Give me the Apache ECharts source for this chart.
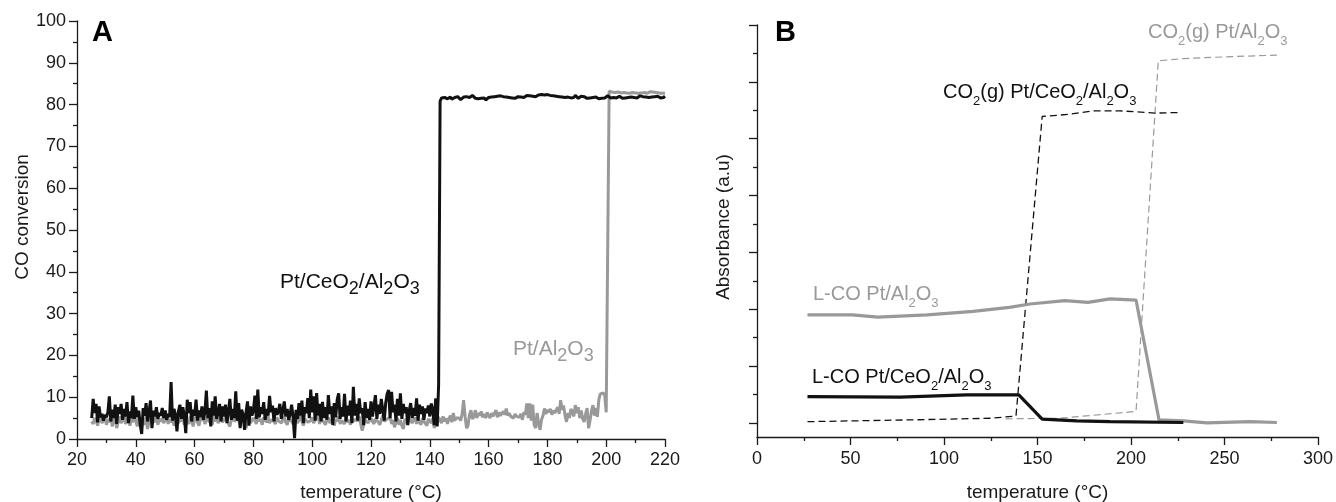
<!DOCTYPE html>
<html>
<head>
<meta charset="utf-8">
<script src="https://cdn.jsdelivr.net/npm/echarts@6/dist/echarts.min.js"></script>
<style>
  html, body { margin: 0; padding: 0; background: #fff; }
  #chart { width: 1336px; height: 502px; }
</style>
</head>
<body>
<div id="chart"></div>
<script>
// ---- panel A : CO conversion vs temperature, sampled every 0.5 °C from 25 °C ----
var tStart = 25;
var tStep = 0.5;

// Pt/CeO2/Al2O3, 25.0 .. 143.0
var blackLow = [
  5.0, 9.6, 6.2, 8.4, 4.0, 7.8, 5.2, 6.0, 4.4, 5.8,
  5.2, 6.4, 10.2, 4.2, 7.0, 5.0, 8.2, 3.6, 7.6, 6.0,
  8.4, 4.6, 7.2, 5.4, 8.8, 3.8, 6.6, 5.0, 10.4, 4.8,
  7.6, 5.2, 6.8, 3.4, 1.2, 7.4, 5.6, 8.6, 4.2, 6.4,
  9.2, 2.6, 6.8, 5.4, 7.6, 4.8, 6.2, 5.6, 7.4, 5.0,
  6.8, 4.6, 6.0, 5.2, 13.6, 4.4, 7.2, 5.8, 1.8, 6.6,
  8.2, 4.8, 7.6, 5.4, 1.4, 9.4, 6.2, 8.8, 4.2, 7.0,
  5.6, 9.4, 4.4, 6.8, 5.2, 7.8, 4.6, 6.4, 11.6, 5.0,
  7.4, 3.0, 9.0, 5.6, 10.2, 4.8, 6.2, 8.4, 4.2, 7.8,
  5.4, 8.2, 3.8, 6.6, 9.6, 4.6, 7.2, 5.0, 11.4, 4.4,
  8.6, 2.6, 7.0, 5.8, 2.2, 6.4, 9.0, 3.2, 7.8, 5.6,
  6.8, 10.4, 4.8, 11.8, 5.2, 7.6, 6.0, 8.8, 4.6, 7.2,
  5.6, 10.3, 6.4, 8.0, 4.2, 7.4, 5.8, 6.6, 8.4, 4.8,
  6.8, 9.0, 5.4, 7.2, 4.6, 6.0, 8.2, 5.2, 0.2, 7.0,
  4.8, 8.6, 5.6, 9.2, 3.8, 7.6, 6.2, 9.8, 5.0, 11.8,
  6.4, 10.2, 4.4, 11.0, 5.6, 8.4, 4.2, 8.9, 5.0, 7.6,
  4.6, 10.5, 6.0, 7.8, 3.4, 8.6, 5.2, 9.4, 10.9, 4.8,
  7.6, 5.4, 10.8, 4.2, 8.0, 5.6, 9.2, 3.8, 12.5, 5.6,
  8.4, 4.4, 9.7, 6.2, 7.4, 3.3, 8.8, 5.0, 7.2, 4.6,
  9.0, 5.4, 7.8, 10.5, 4.8, 8.2, 6.0, 9.6, 9.3, 4.4,
  8.6, 10.8, 11.7, 5.0, 11.3, 6.4, 8.2, 4.2, 9.6, 5.6,
  10.9, 4.8, 8.4, 6.2, 7.6, 3.3, 6.8, 8.6, 5.0, 7.4,
  5.6, 9.7, 4.4, 8.2, 6.0, 7.8, 4.6, 7.3, 6.2, 8.0,
  5.4, 8.5, 7.0, 3.3, 9.7, 3.0, 13.0
];
// Pt/CeO2/Al2O3, 143.5 .. 220.0
var blackHigh = [
  80.8, 81.6, 82.0, 81.7, 81.9, 81.4, 81.6, 81.8, 81.3, 81.5,
  81.7, 81.4, 81.9, 81.6, 81.2, 81.5, 81.8, 81.6, 81.9, 82.1,
  81.7, 81.9, 82.2, 81.8, 81.5, 81.7, 81.4, 81.2, 81.5, 81.3,
  81.6, 81.1, 81.4, 81.7, 81.5, 81.8, 81.6, 81.9, 81.7, 82.0,
  81.8, 82.1, 81.7, 81.9, 81.6, 81.8, 82.0, 81.7, 81.9, 81.6,
  81.8, 81.5, 81.7, 81.9, 82.1, 81.8, 82.0, 81.7, 81.9, 82.2,
  81.9, 82.1, 81.8, 82.0, 82.2, 81.9, 82.1, 82.3, 82.0, 82.4,
  82.6, 82.3, 82.1, 82.4, 82.0, 82.2, 81.9, 82.1, 81.8, 82.0,
  81.7, 81.9, 81.6, 81.8, 82.1, 81.7, 81.5, 81.8, 82.0, 81.6,
  81.9, 81.7, 82.2, 81.8, 81.5, 81.7, 82.0, 81.6, 81.9, 81.7,
  81.5, 81.8, 81.6, 81.9, 81.7, 81.5, 81.8, 81.6, 81.4, 81.7,
  81.5, 81.8, 81.6, 81.9, 82.1, 81.8, 81.6, 82.0, 81.7, 81.9,
  81.6, 81.8, 82.0, 81.7, 81.5, 81.8, 81.6, 81.9, 81.7, 81.5,
  81.8, 82.0, 81.7, 81.9, 81.6, 81.8, 82.1, 81.7, 81.9, 81.6,
  81.8, 82.0, 81.7, 81.5, 81.8, 81.6, 81.9, 81.7, 82.0, 81.8,
  81.6, 81.9, 81.7, 82.0
];

// Pt/Al2O3, 25.0 .. 200.5
var grayLow = [
  4.2, 3.6, 5.0, 4.4, 3.2, 4.8, 5.4, 3.8, 4.6, 5.2,
  3.4, 4.8, 4.0, 5.6, 3.0, 4.4, 5.0, 2.6, 4.2, 5.4,
  3.8, 4.6, 5.8, 3.6, 4.4, 5.2, 3.2, 4.8, 4.0, 5.6,
  4.4, 3.0, 5.0, 4.2, 2.8, 4.6, 3.4, 5.4, 2.4, 4.0,
  5.2, 3.6, 4.6, 4.0, 5.6, 3.4, 4.8, 4.2, 5.0, 3.8,
  4.4, 5.6, 3.6, 4.8, 4.0, 5.2, 3.2, 4.6, 5.4, 3.8,
  4.8, 4.2, 5.8, 3.4, 4.6, 5.0, 3.6, 5.4, 4.4, 3.0,
  4.8, 5.4, 4.0, 3.2, 5.0, 4.4, 5.8, 3.6, 4.6, 5.2,
  4.0, 4.8, 3.4, 5.6, 4.2, 5.0, 3.8, 4.6, 5.4, 4.0,
  3.6, 5.2, 4.4, 4.8, 3.0, 4.6, 5.6, 4.2, 3.8, 5.0,
  4.4, 3.2, 5.2, 4.0, 4.8, 2.6, 4.6, 5.4, 3.8, 4.2,
  5.0, 4.4, 3.6, 5.6, 4.2, 4.8, 3.4, 5.2, 4.6, 4.0,
  5.4, 3.8, 4.6, 5.0, 4.2, 3.6, 5.2, 4.4, 4.8, 3.8,
  4.6, 5.4, 4.0, 3.4, 4.8, 5.2, 4.2, 3.6, 4.4, 5.0,
  3.8, 4.6, 5.6, 4.2, 3.2, 4.8, 5.0, 4.0, 3.6, 4.4,
  5.2, 3.8, 4.6, 4.2, 5.4, 3.6, 4.8, 5.0, 4.0, 3.4,
  4.6, 5.2, 3.8, 4.4, 5.0, 3.2, 4.8, 4.2, 5.4, 3.6,
  4.4, 4.8, 3.6, 5.2, 4.0, 4.6, 3.4, 5.0, 4.2, 3.8,
  4.8, 4.2, 5.4, 3.6, 2.0, 3.4, 4.6, 5.0, 3.8, 4.4,
  5.0, 4.2, 3.6, 4.8, 5.2, 4.0, 3.4, 4.6, 5.6, 4.2,
  3.8, 4.8, 4.4, 5.2, 3.6, 4.6, 2.8, 4.0, 5.0, 3.4,
  4.6, 3.2, 2.4, 4.8, 4.2, 3.6, 5.0, 4.4, 3.8, 4.6,
  5.2, 3.6, 4.8, 4.0, 3.4, 5.0, 4.2, 4.6, 3.2, 4.8,
  4.4, 3.8, 5.0, 2.6, 4.2, 3.4, 5.2, 4.6, 3.8, 5.4,
  4.2, 5.0, 3.6, 4.8, 5.6, 4.0, 6.2, 4.4, 5.0, 4.6,
  5.0, 4.4, 6.0, 9.3, 5.4, 2.6, 3.2, 5.8, 6.9, 4.8,
  5.4, 6.9, 5.0, 6.2, 5.6, 6.6, 5.2, 6.0, 5.0, 6.4,
  5.6, 5.0, 6.2, 5.4, 5.8, 6.9, 5.2, 6.4, 5.6, 6.0,
  6.6, 5.8, 7.3, 5.6, 6.2, 5.4, 5.8, 5.0, 6.0, 5.4,
  5.6, 5.2, 6.0, 4.6, 6.4, 5.8, 8.5, 5.0, 8.5, 4.4,
  8.2, 3.4, 2.6, 6.2, 3.8, 2.2, 4.6, 5.6, 7.3, 6.0,
  7.0, 6.4, 7.2, 5.8, 6.8, 6.2, 6.9, 7.6, 6.0, 9.3,
  7.0, 8.0, 5.6, 4.1, 6.2, 5.0, 7.2, 6.4, 5.4, 8.1,
  6.2, 7.6, 5.0, 6.8, 4.8, 4.1, 6.0, 7.4, 2.6, 4.4,
  6.8, 8.1, 5.6, 7.4, 5.3, 9.4, 10.8, 10.6, 11.0, 10.4,
  6.4, 6.6
];
// Pt/Al2O3, 201.0 .. 220.0
var grayHigh = [
  83.2, 83.4, 83.0, 83.3, 82.9, 83.2, 83.0, 83.3, 82.8, 83.1,
  82.9, 83.2, 82.8, 83.0, 82.7, 83.1, 82.9, 83.2, 82.8, 83.0,
  82.7, 83.0, 82.8, 83.1, 82.9, 83.0, 82.7, 82.9, 83.1, 82.8,
  83.0, 82.7, 82.9, 83.0, 82.8, 82.9, 82.7, 83.0, 82.8
];

// ---- panel B : absorbance (a.u.), one unit = one long tick ----
var lcoAlT = [27, 51, 64.6, 91, 115.6, 135, 146, 164.7, 177, 188.8, 202.7, 215, 228, 240.6, 263.6, 278];
var lcoAlA = [1.90, 1.90, 1.86, 1.90, 1.96, 2.03, 2.09, 2.15, 2.12, 2.18, 2.16, 0.05, 0.035, 0.0, 0.02, 0.005];
var lcoCeT = [27, 76.5, 112, 140, 152.5, 171, 188.8, 228];
var lcoCeA = [0.46, 0.45, 0.49, 0.49, 0.065, 0.035, 0.02, 0.005];
var co2CeT = [27, 80, 125, 138.5, 152.5, 167.5, 179.6, 194, 212.8, 226];
var co2CeA = [0.02, 0.05, 0.08, 0.12, 5.39, 5.43, 5.49, 5.49, 5.45, 5.46];
var co2AlT = [133, 162, 202.7, 214.6, 228, 251, 278];
var co2AlA = [0.07, 0.08, 0.2, 6.37, 6.41, 6.44, 6.47];

var FONT = 'Liberation Sans, Arial, sans-serif';
var INK = '#1a1a1a';
var GREY = '#999999';

function sampled(values, first) {
  return values.map(function(v, i) { return [first + i * tStep, v]; });
}
function paired(ts, vs) {
  return ts.map(function(t, i) { return [t, vs[i]]; });
}

var blackData = sampled(blackLow.concat(blackHigh), tStart);
var grayData = sampled(grayLow.concat(grayHigh), tStart);

var axisLine = { show: true, onZero: false, lineStyle: { color: INK, width: 1.3 } };
var tickStyle = { color: INK, width: 1.3 };

function chem(parts, color, big, small, lh, slh) {
  return {
    type: 'text',
    x: parts.x, y: parts.y,
    style: {
      text: parts.text,
      align: 'left',
      verticalAlign: 'middle',
      fill: color,
      fontFamily: FONT,
      rich: {
        m: { fill: color, fontFamily: FONT, fontSize: big, lineHeight: lh, verticalAlign: 'middle' },
        s: { fill: color, fontFamily: FONT, fontSize: small, lineHeight: slh, verticalAlign: 'bottom' }
      }
    }
  };
}

var dom = document.getElementById('chart');
var chart = echarts.init(dom, null, { renderer: 'canvas' });

var option = {
  animation: false,
  backgroundColor: '#ffffff',
  grid: [
    { left: 77, top: 21, width: 588, height: 418, outerBoundsMode: 'none', containLabel: false },
    { left: 757, top: 25, width: 561, height: 412, outerBoundsMode: 'none', containLabel: false },
    { left: 757, top: 25, width: 561, height: 398, outerBoundsMode: 'none', containLabel: false }
  ],
  xAxis: [
    {
      gridIndex: 0, type: 'value', min: 20, max: 220, interval: 20,
      name: 'temperature (°C)', nameLocation: 'middle', nameGap: 44,
      nameTextStyle: { fontFamily: FONT, fontSize: 19, color: INK },
      axisLine: axisLine,
      axisTick: { show: true, length: 8, lineStyle: tickStyle },
      minorTick: { show: true, splitNumber: 2, length: 4, lineStyle: tickStyle },
      axisLabel: { fontFamily: FONT, fontSize: 18, color: INK, margin: 12 },
      splitLine: { show: false }
    },
    {
      gridIndex: 1, type: 'value', min: 0, max: 300, interval: 50,
      name: 'temperature (°C)', nameLocation: 'middle', nameGap: 46,
      nameTextStyle: { fontFamily: FONT, fontSize: 19, color: INK },
      axisLine: axisLine,
      axisTick: { show: true, length: 8, lineStyle: tickStyle },
      minorTick: { show: true, splitNumber: 2, length: 4, lineStyle: tickStyle },
      axisLabel: { fontFamily: FONT, fontSize: 18, color: INK, margin: 13 },
      splitLine: { show: false }
    },
    { gridIndex: 2, type: 'value', min: 0, max: 1, show: false }
  ],
  yAxis: [
    {
      gridIndex: 0, type: 'value', min: 0, max: 100, interval: 10,
      name: 'CO conversion', nameLocation: 'middle', nameGap: 45,
      nameTextStyle: { fontFamily: FONT, fontSize: 19, color: INK, padding: [0, 0, 0, 26] },
      axisLine: axisLine,
      axisTick: { show: true, length: 8, lineStyle: tickStyle },
      minorTick: { show: true, splitNumber: 2, length: 4, lineStyle: tickStyle },
      axisLabel: { fontFamily: FONT, fontSize: 18, color: INK, margin: 11 },
      splitLine: { show: false }
    },
    {
      gridIndex: 1, type: 'value', min: -0.25, max: 7,
      name: 'Absorbance (a.u)', nameLocation: 'middle', nameGap: 24,
      nameTextStyle: { fontFamily: FONT, fontSize: 19, color: INK, padding: [0, 0, 0, 8] },
      axisLine: axisLine,
      axisTick: { show: false },
      axisLabel: { show: false },
      splitLine: { show: false }
    },
    {
      // tick marks of panel B, which start one half-step above the x axis
      gridIndex: 2, type: 'value', min: 0, max: 7, interval: 1,
      axisLine: { show: false, onZero: false },
      axisTick: { show: true, length: 8, lineStyle: tickStyle },
      minorTick: { show: true, splitNumber: 2, length: 4, lineStyle: tickStyle },
      axisLabel: { show: false },
      splitLine: { show: false }
    }
  ],
  series: [
    {
      name: 'Pt/Al2O3', type: 'line', xAxisIndex: 0, yAxisIndex: 0,
      data: grayData, showSymbol: false, symbol: 'none',
      lineStyle: { color: GREY, width: 3 }
    },
    {
      name: 'Pt/CeO2/Al2O3', type: 'line', xAxisIndex: 0, yAxisIndex: 0,
      data: blackData, showSymbol: false, symbol: 'none',
      lineStyle: { color: '#111111', width: 3 }
    },
    {
      name: 'CO2(g) Pt/Al2O3', type: 'line', xAxisIndex: 1, yAxisIndex: 1,
      data: paired(co2AlT, co2AlA), showSymbol: false, symbol: 'none',
      lineStyle: { color: GREY, width: 1.2, type: [7, 4] }
    },
    {
      name: 'CO2(g) Pt/CeO2/Al2O3', type: 'line', xAxisIndex: 1, yAxisIndex: 1,
      data: paired(co2CeT, co2CeA), showSymbol: false, symbol: 'none',
      lineStyle: { color: '#111111', width: 1.3, type: [7, 4] }
    },
    {
      name: 'L-CO Pt/Al2O3', type: 'line', xAxisIndex: 1, yAxisIndex: 1,
      data: paired(lcoAlT, lcoAlA), showSymbol: false, symbol: 'none',
      lineStyle: { color: GREY, width: 3.2 }
    },
    {
      name: 'L-CO Pt/CeO2/Al2O3', type: 'line', xAxisIndex: 1, yAxisIndex: 1,
      data: paired(lcoCeT, lcoCeA), showSymbol: false, symbol: 'none',
      lineStyle: { color: '#111111', width: 3.2 }
    }
  ],
  graphic: [
    { type: 'text', x: 92, y: 33, style: { text: 'A', fill: '#000', font: 'bold 29px ' + FONT, align: 'left', verticalAlign: 'middle' } },
    { type: 'text', x: 775, y: 33, style: { text: 'B', fill: '#000', font: 'bold 29px ' + FONT, align: 'left', verticalAlign: 'middle' } },
    chem({ x: 280, y: 282, text: '{m|Pt/CeO}{s|2}{m|/Al}{s|2}{m|O}{s|3}' }, '#111111', 21, 18, 32, 18),
    chem({ x: 513, y: 349, text: '{m|Pt/Al}{s|2}{m|O}{s|3}' }, GREY, 21, 18, 32, 18),
    chem({ x: 943, y: 92, text: '{m|CO}{s|2}{m|(g) Pt/CeO}{s|2}{m|/Al}{s|2}{m|O}{s|3}' }, '#111111', 20, 13, 31, 13),
    chem({ x: 1148, y: 32, text: '{m|CO}{s|2}{m|(g) Pt/Al}{s|2}{m|O}{s|3}' }, GREY, 20, 13, 31, 13),
    chem({ x: 813, y: 294, text: '{m|L-CO Pt/Al}{s|2}{m|O}{s|3}' }, GREY, 20, 13, 31, 13),
    chem({ x: 812, y: 377, text: '{m|L-CO Pt/CeO}{s|2}{m|/Al}{s|2}{m|O}{s|3}' }, '#111111', 20, 13, 31, 13)
  ]
};

chart.setOption(option);
</script>
</body>
</html>
